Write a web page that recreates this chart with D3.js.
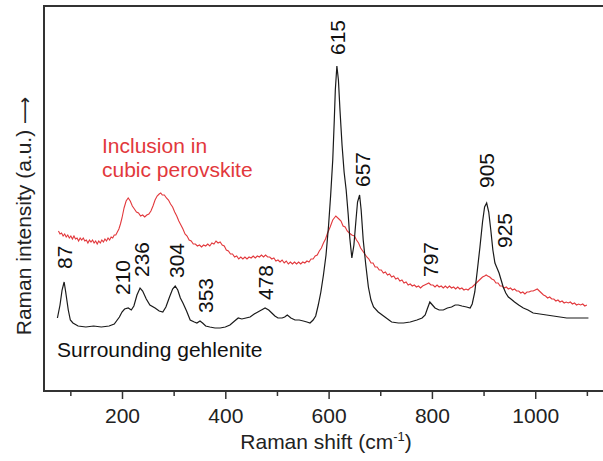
<!DOCTYPE html>
<html>
<head>
<meta charset="utf-8">
<script src="https://d3js.org/d3.v7.min.js"></script>
<style>
  body { margin: 0; background: #fff; }
  svg text { font-family: 'Liberation Sans', Arial, sans-serif; }
</style>
</head>
<body>
<div id="chart"></div>
<script>
// Surrounding gehlenite (black)
var blackShift = [75, 80, 84, 88, 91, 96, 100, 105, 115, 130, 145, 160, 175, 185, 195, 200, 205, 212, 218, 223,
  229, 235, 240, 247, 254, 264, 272, 279, 285, 292, 298, 303, 308, 313, 318, 325, 332, 340, 345, 351,
  356, 362, 370, 380, 390, 400, 409, 418, 425, 432, 440, 448, 456, 463, 470, 477, 484, 490, 496, 502,
  510, 515, 520, 527, 535, 543, 551, 558, 564, 570, 575, 580, 585, 590, 595, 600, 604, 608, 611, 613,
  616, 619, 622, 626, 630, 634, 638, 641, 645, 649, 653, 656, 660, 663, 667, 672, 677, 682, 687, 696,
  709, 722, 735, 745, 758, 771, 781, 787, 791, 796, 801, 806, 814, 822, 830, 838, 845, 851, 858, 867,
  874, 878, 883, 888, 893, 898, 902, 906, 910, 914, 918, 922, 926, 930, 934, 938, 943, 948, 953, 960,
  968, 977, 986, 996, 1009, 1022, 1035, 1048, 1061, 1074, 1088, 1103];
var blackIntensity = [73, 86, 101, 109, 99, 81, 71, 68, 65, 64, 65, 64, 65, 67, 74, 79, 82, 83, 81, 85,
  96, 103, 100, 92, 86, 83, 80, 79, 84, 94, 102, 105, 101, 93, 88, 80, 71, 69, 68, 70,
  68, 65, 64, 63, 63, 64, 66, 70, 73, 72, 73, 74, 77, 79, 81, 83, 81, 78, 75, 73,
  73, 74, 76, 73, 71, 71, 70, 69, 68, 71, 75, 86, 99, 116, 136, 166, 196, 231, 271, 301,
  325, 311, 281, 246, 219, 201, 176, 153, 133, 146, 171, 189, 196, 181, 151, 126, 104, 91, 84, 79,
  74, 69, 68, 68, 69, 71, 73, 76, 82, 89, 86, 83, 81, 81, 83, 84, 86, 86, 85, 84,
  83, 87, 99, 121, 144, 169, 184, 188, 179, 161, 141, 128, 123, 118, 111, 104, 98, 94, 92, 89,
  86, 83, 81, 78, 77, 76, 75, 74, 73, 73, 73, 73];

// Inclusion in cubic perovskite (red), noisy trace
var redShift = [77, 80, 83, 86, 89, 92, 95, 98, 101, 104, 107, 110, 113, 116, 119, 122, 125, 128, 131, 134,
  137, 140, 143, 146, 149, 152, 155, 158, 161, 164, 167, 170, 173, 176, 179, 182, 185, 188, 191, 194,
  197, 200, 204, 208, 212, 216, 220, 224, 228, 232, 236, 240, 244, 248, 252, 256, 260, 264, 268, 272,
  275, 278, 282, 286, 290, 294, 298, 302, 306, 310, 314, 318, 322, 326, 330, 334, 338, 342, 346, 350,
  354, 358, 362, 366, 370, 374, 378, 382, 386, 390, 394, 398, 402, 406, 410, 414, 418, 422, 426, 430,
  434, 438, 442, 446, 450, 454, 458, 462, 466, 470, 474, 478, 482, 486, 490, 494, 498, 502, 506, 510,
  514, 518, 522, 526, 530, 534, 538, 542, 546, 550, 554, 558, 562, 566, 570, 574, 578, 582, 586, 590,
  594, 598, 603, 608, 614, 620, 624, 628, 632, 636, 640, 645, 650, 654, 658, 662, 666, 670, 674, 678,
  682, 686, 690, 694, 698, 702, 706, 710, 714, 718, 722, 726, 730, 734, 738, 742, 746, 750, 754, 758,
  762, 766, 770, 774, 778, 782, 786, 790, 794, 798, 802, 806, 810, 814, 818, 822, 826, 830, 834, 838,
  842, 846, 850, 854, 858, 862, 866, 870, 874, 878, 882, 886, 890, 894, 898, 902, 905, 908, 912, 916,
  920, 924, 928, 932, 936, 940, 944, 948, 952, 956, 960, 964, 968, 972, 976, 980, 984, 988, 992, 996,
  1000, 1004, 1008, 1012, 1016, 1020, 1024, 1028, 1032, 1036, 1040, 1044, 1048, 1052, 1056, 1060, 1064, 1068, 1072, 1076,
  1080, 1084, 1088, 1092, 1096, 1100];
var redIntensity = [160, 157, 158, 155, 157, 154, 156, 153, 155, 152, 155, 152, 153, 150, 153, 151, 153, 150, 151, 148,
  151, 149, 151, 148, 150, 147, 150, 148, 151, 149, 152, 150, 153, 151, 154, 153, 156, 156, 159, 162,
  167, 173, 183, 190, 193, 190, 185, 182, 179, 178, 175, 176, 174, 176, 177, 180, 185, 191, 195, 197,
  198, 196, 196, 193, 191, 187, 184, 179, 175, 170, 166, 162, 157, 155, 151, 150, 147, 147, 145, 146,
  144, 146, 145, 147, 145, 148, 147, 150, 148, 149, 146, 145, 141, 140, 137, 137, 134, 135, 132, 134,
  132, 134, 132, 134, 133, 135, 133, 135, 134, 136, 134, 136, 134, 134, 132, 133, 130, 131, 129, 131,
  128, 130, 127, 129, 127, 129, 127, 129, 127, 129, 128, 130, 129, 132, 132, 135, 136, 140, 143, 148,
  152, 158, 164, 171, 175, 172, 170, 165, 164, 160, 158, 156, 155, 151, 148, 143, 140, 137, 134, 132,
  128, 128, 124, 124, 121, 121, 118, 119, 116, 117, 114, 115, 112, 113, 110, 111, 108, 109, 106, 107,
  105, 106, 104, 105, 103, 105, 106, 107, 108, 106, 106, 104, 106, 104, 105, 103, 105, 103, 105, 103,
  104, 102, 104, 102, 103, 101, 102, 101, 103, 104, 106, 108, 110, 112, 114, 115, 116, 115, 114, 112,
  111, 108, 108, 105, 105, 103, 104, 102, 103, 101, 102, 100, 100, 98, 99, 97, 99, 99, 100, 100,
  101, 102, 100, 98, 96, 95, 93, 94, 92, 92, 90, 91, 89, 90, 88, 89, 88, 89, 87, 88,
  86, 87, 86, 87, 85, 86];

var peakLabels = ["87", "210", "236", "304", "353", "478", "615", "657", "797", "905", "925"];
var xTicks = [200, 400, 600, 800, 1000];
var xMinorTicks = [100, 300, 500, 700, 900, 1100];

var width = 603, height = 461;
var plotLeft = 44, plotTop = 6, plotBottom = 391;

var x = d3.scaleLinear().domain([49, 1150]).range([plotLeft, 612.7]);
var y = d3.scaleLinear().domain([0, 385]).range([plotBottom, plotTop]);

var svg = d3.select("#chart").append("svg")
  .attr("width", width)
  .attr("height", height);

var line = d3.line()
  .x(d => x(d[0]))
  .y(d => y(d[1]));

svg.append("path")
  .datum(d3.zip(redShift, redIntensity))
  .attr("fill", "none")
  .attr("stroke", "#e2383c")
  .attr("stroke-width", 1.1)
  .attr("d", line);

svg.append("path")
  .datum(d3.zip(blackShift, blackIntensity))
  .attr("fill", "none")
  .attr("stroke", "#1a1a1a")
  .attr("stroke-width", 1.2)
  .attr("d", line);

// frame (right side runs off the picture)
svg.append("rect")
  .attr("x", plotLeft)
  .attr("y", plotTop)
  .attr("width", x(1150) - plotLeft)
  .attr("height", plotBottom - plotTop)
  .attr("fill", "none")
  .attr("stroke", "#333")
  .attr("stroke-width", 2);

// x axis ticks
var axis = svg.append("g")
  .attr("transform", "translate(0," + plotBottom + ")")
  .call(d3.axisBottom(x).tickValues(xTicks).tickSize(8).tickFormat(d3.format("d")));
axis.select(".domain").remove();
axis.selectAll("line").attr("stroke", "#333").attr("stroke-width", 1.5);
axis.selectAll("text")
  .attr("y", 32).attr("dy", 0)
  .attr("fill", "#222")
  .style("font-size", "21px");

var minor = svg.append("g")
  .attr("transform", "translate(0," + plotBottom + ")")
  .call(d3.axisBottom(x).tickValues(xMinorTicks).tickSize(5).tickFormat(""));
minor.select(".domain").remove();
minor.selectAll("line").attr("stroke", "#333").attr("stroke-width", 1.5);

// axis titles
var xt = svg.append("text")
  .attr("x", 326).attr("y", 449)
  .attr("text-anchor", "middle")
  .attr("fill", "#222")
  .style("font-size", "21px")
  .text("Raman shift (cm");
xt.append("tspan").attr("dy", -8).style("font-size", "13px").text("-1");
xt.append("tspan").attr("dy", 8).text(")");

var yt = svg.append("text")
  .attr("transform", "translate(31,216) rotate(-90)")
  .attr("text-anchor", "middle")
  .attr("fill", "#222")
  .style("font-size", "21px")
  .text("Raman intensity (a.u.) ");
yt.append("tspan")
  .style("font-family", "'DejaVu Sans', sans-serif")
  .style("font-size", "19px")
  .text("\u27F6");

// series labels
svg.append("text")
  .attr("x", 102).attr("y", 153)
  .attr("fill", "#e2383c")
  .style("font-size", "21px")
  .text("Inclusion in");
svg.append("text")
  .attr("x", 102).attr("y", 177)
  .attr("fill", "#e2383c")
  .style("font-size", "21px")
  .text("cubic perovskite");
svg.append("text")
  .attr("x", 57).attr("y", 357)
  .attr("fill", "#111")
  .style("font-size", "21px")
  .text("Surrounding gehlenite");

// peak labels, rotated; offsets nudge crowded ones
var labelPos = {
  "87": [1, 269], "210": [-5, 295], "236": [1, 277], "304": [1, 278], "353": [4, 313],
  "478": [0, 300], "615": [1, 55], "657": [4, 187], "797": [0, 277], "905": [0, 188], "925": [8, 248]
};
svg.selectAll(".peak")
  .data(peakLabels)
  .enter()
  .append("text")
  .attr("class", "peak")
  .attr("transform", d => "translate(" + (x(+d) + labelPos[d][0]) + "," + labelPos[d][1] + ") rotate(-90)")
  .attr("dy", "0.36em")
  .attr("fill", "#111")
  .style("font-size", "21px")
  .text(d => d);
</script>
</body>
</html>
